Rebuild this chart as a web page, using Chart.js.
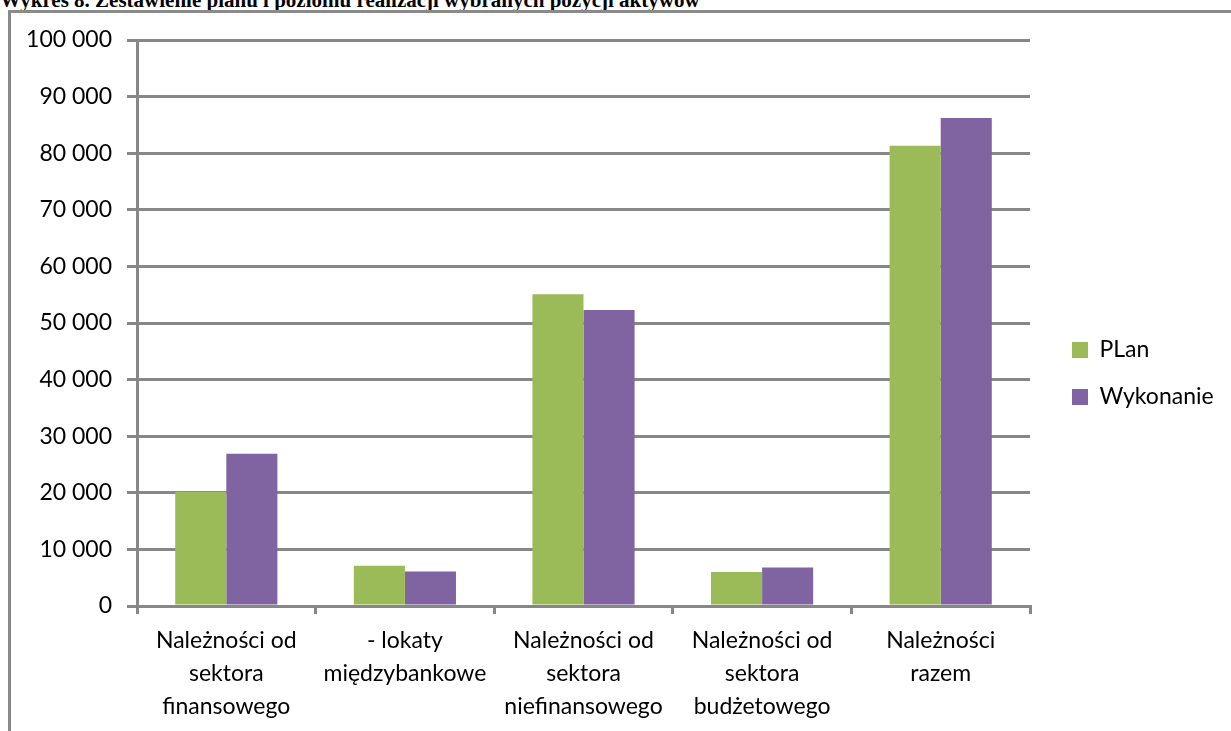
<!DOCTYPE html>
<html lang="pl">
<head>
<meta charset="utf-8">
<title>Wykres 8</title>
<script src="https://cdn.jsdelivr.net/npm/chart.js@4"></script>
<style>
  html, body { margin: 0; padding: 0; background: #fff; overflow: hidden; }
  body { width: 1231px; height: 731px; position: relative; }
  .title {
    position: absolute; left: 0; top: -12px; margin: 0; line-height: 1;
    font: bold 21px "Liberation Serif", "DejaVu Serif", serif; color: #000; white-space: nowrap;
  }
  .frame {
    position: absolute; left: 8px; top: 10px; width: 1300px; height: 800px;
    border-top: 3px solid #8a8a8a; border-left: 3px solid #8a8a8a;
  }
  #wrap { position: absolute; left: 0; top: 0; width: 1231px; height: 731px; }
</style>
</head>
<body>
<p class="title">Wykres 8. Zestawienie planu i poziomu realizacji wybranych pozycji aktywów</p>
<div class="frame"></div>
<div id="wrap"><canvas id="chart"></canvas></div>
<script>
  // kategorie (wiele linii)
  const categories = [
    ['Należności od', 'sektora', 'finansowego'],
    ['- lokaty', 'międzybankowe'],
    ['Należności od', 'sektora', 'niefinansowego'],
    ['Należności od', 'sektora', 'budżetowego'],
    ['Należności', 'razem']
  ];
  const seriesNames = ['PLan', 'Wykonanie'];
  const planValues = [20200, 7100, 55100, 6000, 81300];
  const wykonanieValues = [26900, 6100, 52300, 6800, 86200];
  const yTicks = [0, 10000, 20000, 30000, 40000, 50000, 60000, 70000, 80000, 90000, 100000];

  const gridColor = '#878787';
  const font = '"Lato", "Open Sans", sans-serif';

  // stala szerokosc legendy + przesuniecie
  const legendPlace = {
    id: 'legendPlace',
    beforeInit(chart) {
      const fit = chart.legend.fit;
      chart.legend.fit = function () {
        fit.call(this);
        this.width = 201;
      };
    },
    afterLayout(chart) {
      const lg = chart.legend;
      lg.left += 18; lg.right += 18;
      lg.top -= 12; lg.bottom -= 12;
    }
  };

  new Chart(document.getElementById('chart'), {
    type: 'bar',
    data: {
      labels: categories,
      datasets: [
        { label: seriesNames[0], data: planValues, backgroundColor: '#9BBB59' },
        { label: seriesNames[1], data: wykonanieValues, backgroundColor: '#8064A2' }
      ]
    },
    options: {
      responsive: true,
      maintainAspectRatio: false,
      animation: false,
      categoryPercentage: 0.572,
      barPercentage: 1,
      layout: { padding: { top: 40, bottom: 0, left: 0, right: 0 } },
      plugins: {
        tooltip: { enabled: false },
        legend: {
          position: 'right',
          labels: {
            boxWidth: 16, boxHeight: 16, padding: 24,
            color: '#000', font: { family: font, size: 23 }
          }
        }
      },
      scales: {
        x: {
          afterFit(scale) { scale.height = 125; },
          grid: { display: true, drawOnChartArea: false, offset: true, tickLength: 8, color: gridColor, lineWidth: 3 },
          border: { display: true, color: gridColor, width: 3 },
          ticks: {
            color: '#000', padding: 10, maxRotation: 0, autoSkip: false,
            font: { family: font, size: 23, lineHeight: 33 / 23 }
          }
        },
        y: {
          min: 0, max: 100000,
          afterFit(scale) { scale.width = 137; },
          afterBuildTicks(scale) { scale.ticks = yTicks.map(v => ({ value: v })); },
          grid: { color: gridColor, lineWidth: 3, tickLength: 10 },
          border: { display: true, color: gridColor, width: 3 },
          ticks: {
            color: '#000', padding: 15,
            font: { family: font, size: 23 },
            callback: v => String(v).replace(/\B(?=(\d{3})+(?!\d))/g, ' ')
          }
        }
      }
    },
    plugins: [legendPlace]
  });
</script>
</body>
</html>
